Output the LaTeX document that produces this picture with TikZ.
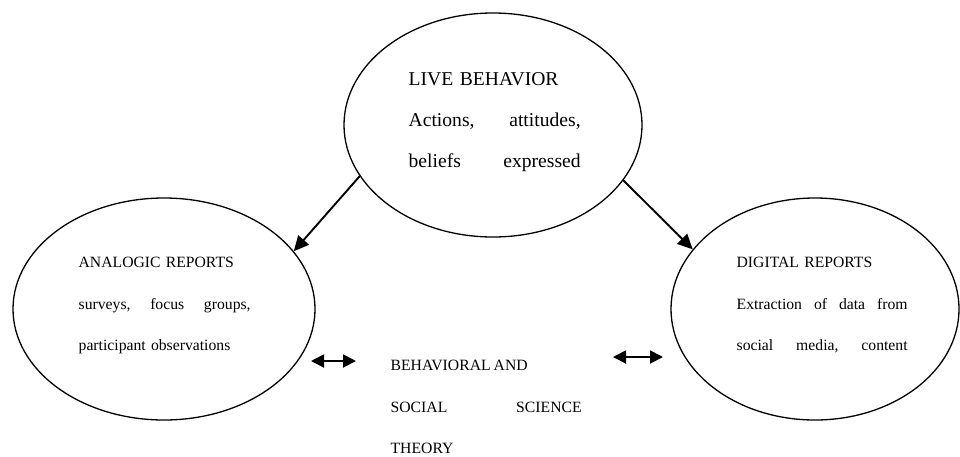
\documentclass[tikz,border=0pt]{standalone}
\usepackage{fontspec}
\setmainfont{Liberation Serif}
\usetikzlibrary{arrows.meta,positioning,shapes.geometric}

\newcommand{\spreadline}[2]{\makebox[#1][l]{#2}}

\begin{document}
\begin{tikzpicture}[x=1pt,y=-1pt,line width=1.3pt,
    bubble/.style={draw,ellipse,inner sep=0pt},
    big text/.style={inner sep=0pt,anchor=north west,text width=172pt,align=left,
        font=\fontsize{19.6}{41}\selectfont},
    small text/.style={inner sep=0pt,anchor=north west,align=left,
        font=\fontsize{15.7}{41.5}\selectfont},
    arrow/.style={-{Triangle[length=15pt,width=14pt]},line width=1.9pt},
    both arrow/.style={{Triangle[length=13pt,width=13pt]}-{Triangle[length=13pt,width=13pt]},line width=1.9pt}]

    \useasboundingbox (0,0) rectangle (960,456);

    \node[bubble,minimum width=298pt,minimum height=224pt] (live) at (493,125) {};
    \node[bubble,minimum width=302pt,minimum height=222pt] (analog) at (164,309) {};
    \node[bubble,minimum width=288pt,minimum height=222pt] (digital) at (815,309) {};

    \node[big text] (livetext) at (408,71.5) {LIVE BEHAVIOR\\
        \spreadline{172pt}{Actions,\hfill attitudes,}\\
        \spreadline{172pt}{beliefs\hfill expressed}};

    \node[small text,text width=172pt] (analogtext) at (78,256.5) {ANALOGIC REPORTS\\
        \spreadline{172pt}{surveys,\hfill focus\hfill groups,}\\
        participant observations};

    \node[small text,text width=171pt] (digitaltext) at (736,256.5) {DIGITAL REPORTS\\
        \spreadline{171pt}{Extraction\hfill of\hfill data\hfill from}\\
        \spreadline{171pt}{social\hfill media,\hfill content}};

    \node[small text,text width=191pt] (theory) at (390,359.5) {BEHAVIORAL\kern3pt AND\\
        \spreadline{191pt}{SOCIAL\hfill SCIENCE}\\
        THEORY};

    \coordinate (a1) at (311,361);
    \coordinate (a2) at (356,361);
    \coordinate (d1) at (613,357);
    \coordinate (d2) at (663,357);

    \path[arrow] (live.201) edge (analog.24);
    \path[arrow] (live.337) edge (digital.154);

    \draw[both arrow] (a1) -- (a2);
    \draw[both arrow] (d1) -- (d2);
\end{tikzpicture}
\end{document}
